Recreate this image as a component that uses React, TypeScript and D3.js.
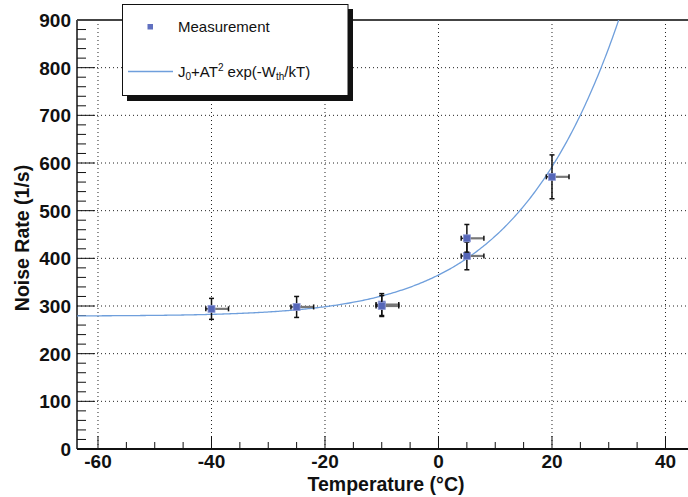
import React from "react";
import * as d3 from "d3";

// ---- data ----
const temps = [-40, -25, -10, -10, 5, 5, 20];
const rates = [294, 298, 303, 300, 405, 442, 571];
const rateErr = [22, 22, 23, 22, 29, 29, 46];
const tempErrLow = [1, 1, 1, 1, 1, 1, 1];
const tempErrHigh = [3, 3, 3, 3, 3, 3, 3];

const xTicks = [-60, -40, -20, 0, 20, 40];
const yTicks = [0, 100, 200, 300, 400, 500, 600, 700, 800, 900];

// fit parameters: J0 + A T^2 exp(-W/kT), T in K
const fitJ0 = 279;
const fitA = 24446;
const fitWk = 4608;

const W = 688;
const H = 497;
const left = 77;
const right = 695;
const top = 20;
const bottom = 449;

export default function App() {
  const x = d3.scaleLinear().domain([-63.7, 45.2]).range([left, right]);
  const y = d3.scaleLinear().domain([0, 900]).range([bottom, top]);

  const fit = (t: number) => {
    const T = t + 273.15;
    return fitJ0 + fitA * T * T * Math.exp(-fitWk / T);
  };
  const samples = d3.range(-63.7, 45.2, 0.25).map((t) => [t, fit(t)] as [number, number]);
  const line = d3
    .line<[number, number]>()
    .x((d) => x(d[0]))
    .y((d) => y(d[1]));

  const xMinor = d3.range(-60, 45.1, 5);
  const yMinor = d3.range(0, 900.1, 20);

  const font = "'Liberation Sans', Arial, Helvetica, sans-serif";
  const grid = { stroke: "#222", strokeWidth: 1, strokeDasharray: "1,3" };

  const markerColor = "#5566b8";

  return (
    <svg width={W} height={H} style={{ position: "absolute", left: 0, top: 0, background: "#fff" }}>
      <defs>
        <clipPath id="plotclip">
          <rect x={left} y={top} width={right - left} height={bottom - top} />
        </clipPath>
      </defs>
      <rect x={0} y={0} width={W} height={H} fill="#fff" />

      {/* grid */}
      {xTicks.map((t) => (
        <line key={"gx" + t} x1={x(t)} x2={x(t)} y1={top} y2={bottom} {...grid} />
      ))}
      {yTicks
        .filter((t) => t > 0)
        .map((t) => (
          <line key={"gy" + t} x1={left} x2={right} y1={y(t)} y2={y(t)} {...grid} />
        ))}

      {/* ticks */}
      {xMinor.map((t) => {
        const major = t % 20 === 0;
        return (
          <line
            key={"xt" + t}
            x1={x(t)}
            x2={x(t)}
            y1={bottom}
            y2={bottom - (major ? 13 : 7)}
            stroke="#111"
            strokeWidth={1}
          />
        );
      })}
      {yMinor.map((t) => {
        const major = t % 100 === 0;
        return (
          <line
            key={"yt" + t}
            x1={left}
            x2={left + (major ? 18 : 9)}
            y1={y(t)}
            y2={y(t)}
            stroke="#111"
            strokeWidth={1}
          />
        );
      })}

      {/* frame */}
      <line x1={left} x2={left} y1={top} y2={bottom} stroke="#111" strokeWidth={1.5} />
      <line x1={left} x2={right} y1={bottom} y2={bottom} stroke="#111" strokeWidth={2} />
      <line x1={left} x2={right} y1={top} y2={top} stroke="#444" strokeWidth={2.2} />

      {/* fit curve */}
      <g clipPath="url(#plotclip)">
        <path d={line(samples) || ""} fill="none" stroke="#6f9fdc" strokeWidth={1.3} />
      </g>

      {/* error bars and markers */}
      {temps.map((t, i) => {
        const cx = x(t);
        const cy = y(rates[i]);
        const yl = y(rates[i] - rateErr[i]);
        const yh = y(rates[i] + rateErr[i]);
        const xl = x(t - tempErrLow[i]);
        const xh = x(t + tempErrHigh[i]);
        return (
          <g key={"p" + i}>
            <line x1={cx} x2={cx} y1={yl} y2={yh} stroke="#111" strokeWidth={1.5} />
            <line x1={cx - 2.5} x2={cx + 2.5} y1={yl} y2={yl} stroke="#111" strokeWidth={1.5} />
            <line x1={cx - 2.5} x2={cx + 2.5} y1={yh} y2={yh} stroke="#111" strokeWidth={1.5} />
            <line x1={cx} x2={xh} y1={cy} y2={cy} stroke="#777" strokeWidth={2.2} />
            <line x1={xl} x2={cx} y1={cy} y2={cy} stroke="#222" strokeWidth={1.5} />
            <line x1={xl} x2={xl} y1={cy - 2.5} y2={cy + 2.5} stroke="#111" strokeWidth={1.5} />
            <line x1={xh} x2={xh} y1={cy - 2.5} y2={cy + 2.5} stroke="#111" strokeWidth={1.5} />
            <rect x={cx - 3.5} y={cy - 3.5} width={7} height={7} fill={markerColor} stroke="#8f9bd6" strokeWidth={0.8} />
          </g>
        );
      })}

      {/* tick labels */}
      {xTicks.map((t) => (
        <text
          key={"xl" + t}
          x={x(t)}
          y={468}
          textAnchor="middle"
          fontFamily={font}
          fontWeight="bold"
          fontSize={19}
          fill="#111"
        >
          {t}
        </text>
      ))}
      {yTicks.map((t) => (
        <text
          key={"yl" + t}
          x={71}
          y={y(t) + 7}
          textAnchor="end"
          fontFamily={font}
          fontWeight="bold"
          fontSize={19}
          fill="#111"
        >
          {t}
        </text>
      ))}

      {/* axis titles */}
      <text
        x={(left + right) / 2}
        y={491}
        textAnchor="middle"
        fontFamily={font}
        fontWeight="bold"
        fontSize={19.5}
        fill="#111"
      >
        Temperature (°C)
      </text>
      <text
        transform={`translate(29,238) rotate(-90)`}
        textAnchor="middle"
        fontFamily={font}
        fontWeight="bold"
        fontSize={19.5}
        fill="#111"
      >
        Noise Rate (1/s)
      </text>

      {/* legend */}
      <rect x={127} y={9} width={226} height={92} fill="#111" />
      <rect x={122.5} y={4.5} width={225.5} height={91} fill="#fff" stroke="#111" strokeWidth={1} />
      <rect x={147.5} y={24} width={5.5} height={5.5} fill="#6070c0" />
      <text x={178} y={32} fontFamily={font} fontSize={15} fill="#111">
        Measurement
      </text>
      <line x1={128} x2={173} y1={71.5} y2={71.5} stroke="#6f9fdc" strokeWidth={1.3} />
      <text x={178} y={77} fontFamily={font} fontSize={15} fill="#111">
        J
        <tspan fontSize={10} dy={3}>0</tspan>
        <tspan dy={-3}>+AT</tspan>
        <tspan fontSize={10} dy={-6}>2</tspan>
        <tspan dy={6}> exp(-W</tspan>
        <tspan fontSize={10} dy={3}>th</tspan>
        <tspan dy={-3}>/kT)</tspan>
      </text>
    </svg>
  );
}
